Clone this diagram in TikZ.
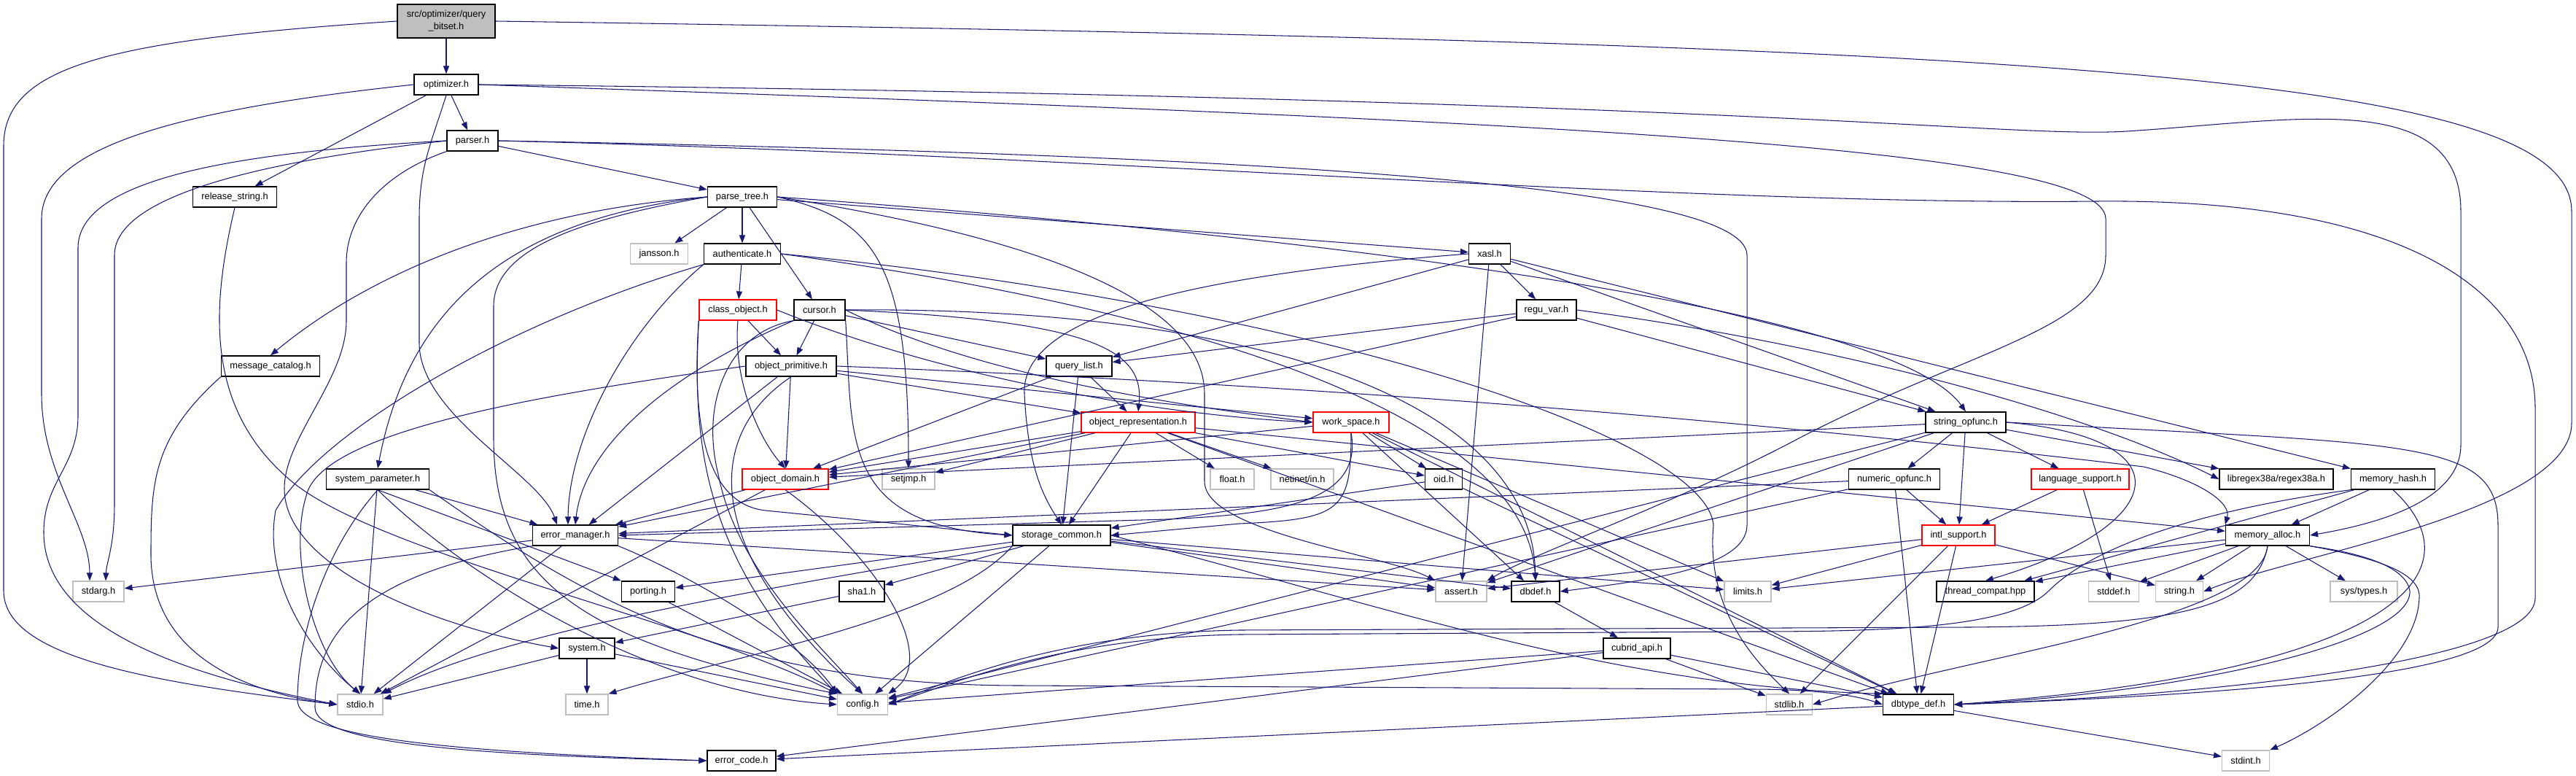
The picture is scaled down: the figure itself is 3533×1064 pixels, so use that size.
\documentclass[tikz,border=0pt]{standalone}
\usepackage{fontspec}
\setmainfont{Liberation Sans}
\usepackage{xcolor}
\usepackage{tikz}
\usetikzlibrary{arrows.meta}
\definecolor{edgeblue}{HTML}{191970}
\definecolor{extgray}{HTML}{BFBFBF}
\definecolor{rootgray}{HTML}{BFBFBF}

\begin{document}
\begin{tikzpicture}[x=0.01cm, y=-0.01cm, >={Triangle[length=3.1pt,width=2.3pt]},
    hdr/.style={draw=#1, fill=white, line width=0.38pt, inner sep=0pt,
        minimum height=0.28cm, font=\fontsize{3.65}{4.8}\selectfont},
    hdr/.default=black,
    dep/.style={->, draw=edgeblue, line width=0.3pt}]
\useasboundingbox (0,0) rectangle (3533,1064);

\node[hdr, fill=rootgray, minimum height=0.46cm, minimum width=1.34cm, align=center] (qbitset) at (612,29) {src/optimizer/query\\\_bitset.h};
\foreach \n/\px/\py/\w/\bc/\lbl in {
    optimizer/612/116/0.88/black/optimizer.h,
    parser/648/193/0.70/black/parser.h,
    release/322/270/1.15/black/release\_string.h,
    parsetree/1018/270/0.95/black/parse\_tree.h,
    jansson/904/348/0.79/extgray/jansson.h,
    authenticate/1018/348/1.05/black/authenticate.h,
    xasl/2043/348/0.57/black/xasl.h,
    classobject/1012/425/1.06/red/class\_object.h,
    cursor/1124/425/0.70/black/cursor.h,
    reguvar/2121/425/0.82/black/regu\_var.h,
    msgcatalog/371/502/1.35/black/message\_catalog.h,
    objprimitive/1085/502/1.24/black/object\_primitive.h,
    querylist/1480/502/0.90/black/query\_list.h,
    objrepr/1561/579/1.56/red/object\_representation.h,
    workspace/1853/579/1.04/red/work\_space.h,
    stringopfunc/2696/579/1.10/black/string\_opfunc.h,
    sysparam/518/657/1.41/black/system\_parameter.h,
    objdomain/1077/657/1.18/red/object\_domain.h,
    setjmp/1246/657/0.72/extgray/setjmp.h,
    floath/1690/657/0.60/extgray/float.h,
    oid/1980/657/0.51/black/oid.h,
    numericopfunc/2598/657/1.25/black/numeric\_opfunc.h,
    langsupport/2853/657/1.34/red/language\_support.h,
    memhash/3282/657/1.15/black/memory\_hash.h,
    errormanager/789/734/1.17/black/error\_manager.h,
    storagecommon/1456/734/1.34/black/storage\_common.h,
    intlsupport/2686/734/1.00/red/intl\_support.h,
    memalloc/3110/734/1.15/black/memory\_alloc.h,
    stdarg/135/811/0.70/extgray/stdarg.h,
    porting/889/811/0.73/black/porting.h,
    sha1/1182/811/0.62/black/sha1.h,
    assert/2004/811/0.70/extgray/assert.h,
    dbdef/2106/811/0.66/black/dbdef.h,
    limits/2397/811/0.64/extgray/limits.h,
    threadcompat/2723/811/1.34/black/thread\_compat.hpp,
    stddef/2899/811/0.69/extgray/stddef.h,
    stringh/2989/811/0.65/extgray/string.h,
    system/805/889/0.76/black/system.h,
    cubridapi/2245/889/0.92/black/cubrid\_api.h,
    stdio/494/966/0.62/extgray/stdio.h,
    timeh/805/966/0.58/extgray/time.h,
    config/1183/966/0.69/extgray/config.h,
    stdlib/2454/966/0.63/extgray/stdlib.h,
    dbtypedef/2631/966/0.97/black/dbtype\_def.h,
    errorcode/1017/1043/0.94/black/error\_code.h,
    stdint/3080/1043/0.65/extgray/stdint.h} {
    \node[hdr=\bc, minimum width=\w cm] (\n) at (\px,\py) {\lbl};
}
\node[hdr=extgray, minimum width=0.86cm] (netinet) at (1786,657) {netinet/in.h};
\node[hdr, minimum width=1.56cm] (libregex) at (3122,657) {libregex38a/regex38a.h};
\node[hdr=extgray, minimum width=0.92cm] (systypes) at (3242,811) {sys/types.h};

\foreach \a/\b in {qbitset/optimizer, optimizer/parser, optimizer/release, parser/parsetree,
    parsetree/jansson, parsetree/authenticate, parsetree/cursor, parsetree/xasl,
    authenticate/classobject, classobject/objprimitive, cursor/objprimitive, cursor/querylist,
    objprimitive/objdomain, objprimitive/errormanager, objprimitive/objrepr, objprimitive/workspace,
    querylist/objdomain, querylist/storagecommon, querylist/objrepr,
    xasl/reguvar, xasl/querylist, xasl/assert, xasl/stringopfunc, xasl/memhash,
    reguvar/querylist, reguvar/objdomain, reguvar/stringopfunc,
    objrepr/objdomain, objrepr/setjmp, objrepr/floath, objrepr/netinet, objrepr/storagecommon,
    objrepr/errormanager, objrepr/oid, objrepr/dbtypedef, objrepr/memalloc,
    workspace/objdomain, workspace/oid, workspace/dbdef, workspace/limits, workspace/dbtypedef,
    oid/storagecommon, oid/dbtypedef,
    stringopfunc/objdomain, stringopfunc/numericopfunc, stringopfunc/intlsupport, stringopfunc/langsupport,
    stringopfunc/libregex, stringopfunc/assert, stringopfunc/config,
    numericopfunc/intlsupport, numericopfunc/dbtypedef, numericopfunc/errormanager, numericopfunc/config,
    langsupport/intlsupport, langsupport/stddef,
    intlsupport/dbtypedef, intlsupport/stdlib, intlsupport/limits, intlsupport/stringh, intlsupport/assert,
    memhash/memalloc, memhash/threadcompat,
    memalloc/threadcompat, memalloc/stddef, memalloc/stringh, memalloc/systypes, memalloc/limits,
    errormanager/stdarg, errormanager/stdio, errormanager/assert,
    storagecommon/sha1, storagecommon/config, storagecommon/porting, storagecommon/assert,
    storagecommon/dbdef, storagecommon/limits,
    sysparam/errormanager, sysparam/stdio, porting/config, sha1/system,
    system/timeh, system/stdio, system/config, objdomain/errormanager, objdomain/stdio,
    dbdef/cubridapi, cubridapi/config, cubridapi/errorcode, cubridapi/stdlib, cubridapi/dbtypedef,
    dbtypedef/errorcode, dbtypedef/stdint} {
    \draw[dep] (\a) -- (\b);
}

\draw[dep] (qbitset.west) .. controls (150,55) and (5,90) .. (5,200) -- (5,810) .. controls (5,900) and (200,935) .. (stdio.west);
\draw[dep] (qbitset.east) .. controls (2800,60) and (3527,100) .. (3527,290) -- (3527,580) .. controls (3527,700) and (3150,760) .. (stringh.east);
\draw[dep] (optimizer.west) .. controls (250,150) and (57,200) .. (57,300) -- (57,540) .. controls (57,650) and (123,720) .. ([xshift=-0.12cm]stdarg.north);
\draw[dep] (optimizer.south) .. controls (590,200) and (575,230) .. (575,300) -- (575,470) .. controls (575,570) and (740,650) .. ([xshift=-0.25cm]errormanager.north);
\draw[dep] (optimizer.east) .. controls (2400,135) and (2750,190) .. (2917,180) .. controls (3150,165) and (3375,120) .. (3375,290) -- (3375,610) .. controls (3375,690) and (3250,720) .. (memalloc.east);
\draw[dep] (optimizer.east) .. controls (2100,165) and (2888,200) .. (2888,300) -- (2888,350) .. controls (2888,450) and (2700,480) .. (2469,600) .. controls (2300,690) and (2100,760) .. (assert.north east);
\draw[dep] (parser.west) .. controls (300,210) and (107,250) .. (107,340) -- (107,570) .. controls (107,640) and (60,660) .. (60,730) .. controls (60,860) and (250,925) .. (stdio.west);
\draw[dep] (parser.west) .. controls (350,222) and (157,270) .. (157,350) -- (157,690) .. controls (157,750) and (146,770) .. ([xshift=0.1cm]stdarg.north);
\draw[dep] (parser.south west) .. controls (520,240) and (475,300) .. (475,360) -- (475,440) .. controls (475,520) and (390,600) .. (390,670) .. controls (390,780) and (600,860) .. (system.west);
\draw[dep] (parser.east) .. controls (1700,212) and (2396,250) .. (2396,350) -- (2396,720) .. controls (2396,780) and (2250,797) .. (dbdef.east);
\draw[dep] (parser.east) .. controls (1500,212) and (2300,282) .. (2876,276) .. controls (3300,272) and (3477,400) .. (3477,560) -- (3477,820) .. controls (3477,910) and (3000,955) .. (dbtypedef.east);
\draw[dep] (release.south) .. controls (290,420) and (280,560) .. (400,660) .. controls (520,760) and (950,850) .. (config.north west);
\draw[dep] (parsetree.west) .. controls (700,300) and (560,420) .. (sysparam.north);
\draw[dep] (parsetree.west) .. controls (700,290) and (500,380) .. (msgcatalog.north);
\draw[dep] (parsetree.west) .. controls (800,300) and (677,340) .. (677,420) -- (677,600) .. controls (677,800) and (800,880) .. (config.north west);
\draw[dep] (parsetree.east) .. controls (1200,300) and (1246,360) .. (setjmp.north);
\draw[dep] (parsetree.east) .. controls (1450,330) and (1652,420) .. (1652,540) -- (1652,660) .. controls (1652,730) and (1900,760) .. (assert.north west);
\draw[dep] (parsetree.east) .. controls (1900,330) and (2600,430) .. (stringopfunc.north);
\draw[dep] (authenticate.south west) .. controls (700,440) and (440,590) .. (378,700) .. controls (360,800) and (430,900) .. (stdio.north);
\draw[dep] (authenticate.south west) .. controls (860,450) and (780,600) .. ([xshift=-0.1cm]errormanager.north);
\draw[dep] (authenticate.east) .. controls (1800,420) and (2340,600) .. (2350,720) .. controls (2340,830) and (2400,900) .. (stdlib.north);
\draw[dep] (authenticate.east) .. controls (1600,420) and (2090,560) .. (dbdef.north);
\draw[dep] (classobject.south) .. controls (1005,520) and (1040,600) .. (objdomain.north);
\draw[dep] (classobject.east) .. controls (1300,520) and (1600,570) .. (workspace.west);
\draw[dep] (classobject.south west) .. controls (950,560) and (960,690) .. (1050,700) .. controls (1150,710) and (1300,725) .. (storagecommon.west);
\draw[dep] (classobject.south west) .. controls (950,600) and (960,760) .. (config.north west);
\draw[dep] (cursor.east) .. controls (1350,520) and (1650,560) .. (workspace.west);
\draw[dep] (cursor.east) .. controls (1500,440) and (1570,480) .. (objrepr.north);
\draw[dep] (cursor.east) .. controls (1700,420) and (2100,540) .. (dbdef.north);
\draw[dep] (cursor.south east) .. controls (1170,600) and (1150,720) .. (storagecommon.west);
\draw[dep] (cursor.south west) .. controls (1000,455) and (960,550) .. (985,650) .. controls (1010,780) and (1120,880) .. (config.north);
\draw[dep] (cursor.south west) .. controls (900,520) and (800,620) .. (errormanager.north);
\draw[dep] (objprimitive.west) .. controls (750,540) and (440,590) .. (420,680) .. controls (395,760) and (430,900) .. (stdio.north);
\draw[dep] (objprimitive.south) .. controls (960,600) and (970,760) .. (config.north);
\draw[dep] (objprimitive.east) .. controls (2000,535) and (2600,600) .. (2940,640) .. controls (3020,660) and (3060,690) .. (memalloc.north west);
\draw[dep] (objdomain.south) .. controls (1200,760) and (1290,900) .. (config.north east);
\draw[dep] (xasl.west) .. controls (1600,380) and (1400,440) .. (1405,540) .. controls (1410,640) and (1430,680) .. (storagecommon.north);
\draw[dep] (reguvar.east) .. controls (2500,470) and (2850,560) .. (libregex.west);
\draw[dep] (workspace.south) .. controls (1853,700) and (1840,712) .. (1700,718) -- (storagecommon.east);
\draw[dep] (workspace.south) .. controls (1870,690) and (1750,705) .. (1600,712) -- (errormanager.east);
\draw[dep] (msgcatalog.south west) .. controls (210,600) and (207,660) .. (207,760) .. controls (207,900) and (340,950) .. (stdio.west);
\draw[dep] (sysparam.south) .. controls (440,760) and (408,880) .. (408,960) .. controls (408,1010) and (600,1030) .. (errorcode.west);
\draw[dep] (sysparam.south) .. controls (650,800) and (900,950) .. (config.west);
\draw[dep] (sysparam.south) -- (porting.north west);
\draw[dep] (sysparam.south east) .. controls (800,820) and (1000,940) .. (1400,940) -- (2400,945) .. controls (2500,945) and (2550,955) .. (dbtypedef.west);
\draw[dep] (errormanager.south west) .. controls (480,790) and (432,880) .. (432,970) .. controls (432,1020) and (650,1035) .. (errorcode.west);
\draw[dep] (errormanager.south east) .. controls (950,790) and (1100,880) .. (config.north west);
\draw[dep] (storagecommon.south west) .. controls (1100,800) and (700,860) .. (stdio.north east);
\draw[dep] (storagecommon.south west) .. controls (1300,850) and (1000,900) .. (timeh.north east);
\draw[dep] (storagecommon.east) .. controls (1900,830) and (2200,940) .. (dbtypedef.north west);
\draw[dep] (stringopfunc.east) .. controls (3000,600) and (2980,720) .. (threadcompat.north);
\draw[dep] (stringopfunc.east) .. controls (3300,610) and (3426,600) .. (3426,720) -- (3426,860) .. controls (3426,930) and (3000,955) .. (dbtypedef.east);
\draw[dep] (memhash.south) .. controls (3400,780) and (3300,920) .. (dbtypedef.east);
\draw[dep] (memhash.south west) .. controls (3050,695) and (2880,740) .. (2810,810) .. controls (2760,860) and (2600,866) .. (2400,866) -- (1700,870) .. controls (1450,874) and (1300,940) .. (config.east);
\draw[dep] (memalloc.south) .. controls (3095,830) and (3000,858) .. (2700,860) -- (1700,864) .. controls (1450,868) and (1300,935) .. (config.east);
\draw[dep] (memalloc.south) .. controls (3100,850) and (2700,900) .. (stdlib.east);
\draw[dep] (memalloc.south east) .. controls (3250,760) and (3300,780) .. (3305,810) .. controls (3310,880) and (3000,950) .. (dbtypedef.east);
\draw[dep] (memalloc.south east) .. controls (3260,765) and (3315,785) .. (3318,815) .. controls (3320,900) and (3200,990) .. (stdint.north east);
\end{tikzpicture}
\end{document}
